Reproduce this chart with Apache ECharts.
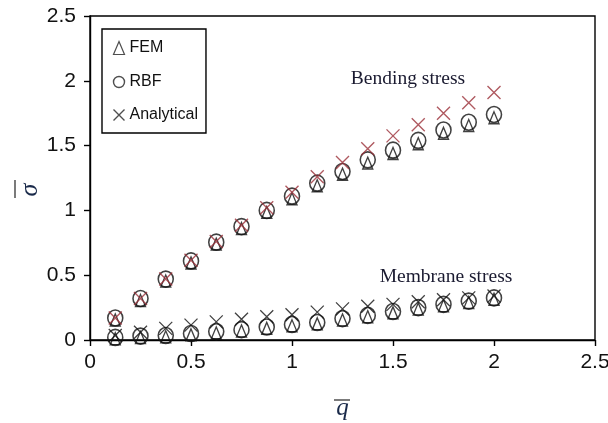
<!DOCTYPE html>
<html>
<head>
<meta charset="utf-8">
<script src="https://cdn.jsdelivr.net/npm/echarts@6/dist/echarts.min.js"></script>
<style>html,body{margin:0;padding:0;background:#fff;}#c{width:608px;height:423px;}</style>
</head>
<body>
<div id="c"></div>
<script>
// ---- data ----
var q = [0.125,0.25,0.375,0.5,0.625,0.75,0.875,1.0,1.125,1.25,1.375,1.5,1.625,1.75,1.875,2.0];
var rbfBending   = [0.17,0.32,0.47,0.61,0.755,0.875,1.0,1.11,1.21,1.30,1.39,1.465,1.54,1.62,1.68,1.74];
var femBending   = [0.155,0.305,0.455,0.595,0.74,0.86,0.985,1.09,1.19,1.28,1.365,1.44,1.515,1.595,1.655,1.715];
var anaBending   = [0.17,0.32,0.47,0.615,0.76,0.885,1.02,1.14,1.26,1.37,1.475,1.575,1.66,1.75,1.83,1.91];
var rbfMembrane  = [0.02,0.03,0.035,0.05,0.065,0.08,0.10,0.12,0.135,0.165,0.19,0.22,0.25,0.275,0.30,0.325];
var femMembrane  = [0.01,0.02,0.025,0.04,0.055,0.07,0.09,0.11,0.125,0.155,0.18,0.21,0.24,0.265,0.29,0.315];
var anaMembrane  = [0.035,0.06,0.09,0.115,0.14,0.16,0.18,0.195,0.215,0.24,0.26,0.275,0.295,0.31,0.325,0.34];
var legendNames = ['FEM','RBF','Analytical'];
var xTicks = [0,0.5,1,1.5,2,2.5];
var yTicks = [0,0.5,1,1.5,2,2.5];
var axisNames = ['q','σ'];
var annotations = ['Bending stress','Membrane stress'];

function pairs(xs, ys){ return xs.map(function(x,i){ return [x, ys[i]]; }); }

var crossPath = 'path://M0,0L10,10M10,0L0,10';
var red = '#9b3038';
var labelFont = '"Liberation Sans", Arial, sans-serif';
var nameColor = '#1a2a4a';

var chart = echarts.init(document.getElementById('c'), null, {renderer:'canvas'});
chart.setOption({
  animation:false,
  backgroundColor:'#fff',
  grid:{left:90,right:13,top:16,bottom:83,containLabel:false,outerBoundsMode:'none',
        show:true,borderColor:'#000',borderWidth:1.4,backgroundColor:'transparent'},
  xAxis:{
    type:'value',min:xTicks[0],max:xTicks[xTicks.length-1],interval:0.5,
    name:axisNames[0],nameLocation:'middle',nameGap:56,
    nameTextStyle:{fontFamily:'"Liberation Serif", serif',fontStyle:'italic',fontSize:25,color:nameColor},
    axisLine:{lineStyle:{color:'#000',width:1.4}},
    axisTick:{inside:false,length:6,lineStyle:{color:'#000',width:1.4}},
    axisLabel:{fontFamily:labelFont,fontSize:21,color:'#111',margin:12},
    splitLine:{show:false}
  },
  yAxis:{
    type:'value',min:yTicks[0],max:yTicks[yTicks.length-1],interval:0.5,
    axisLine:{lineStyle:{color:'#000',width:1.4}},
    axisTick:{inside:false,length:6,lineStyle:{color:'#000',width:1.4}},
    axisLabel:{fontFamily:labelFont,fontSize:21,color:'#111',margin:14},
    splitLine:{show:false}
  },
  legend:{
    orient:'vertical',left:102,top:29,
    backgroundColor:'#fff',borderColor:'#000',borderWidth:1.4,
    padding:[10,8,10,9],itemGap:17,itemWidth:11,itemHeight:13,
    textStyle:{fontFamily:labelFont,fontSize:16,color:'#111',padding:[0,0,0,0]},
    data:[
      {name:legendNames[0],icon:'triangle',itemStyle:{color:'none',borderColor:'#222',borderWidth:1.2}},
      {name:legendNames[1],icon:'circle',itemStyle:{color:'none',borderColor:'#222',borderWidth:1.4}},
      {name:legendNames[2],icon:crossPath,itemStyle:{color:'none',borderColor:'#222',borderWidth:1.4}}
    ]
  },
  graphic:[
    {type:'line',shape:{x1:334,y1:400,x2:350,y2:400},style:{stroke:'#333',lineWidth:1.3}},
    {type:'line',shape:{x1:15,y1:180,x2:15,y2:198},style:{stroke:'#333',lineWidth:1.3}},
    {type:'text',x:30,y:190,rotation:Math.PI/2,style:{text:axisNames[1],font:'italic 26px "Liberation Serif", serif',fill:nameColor,align:'center',verticalAlign:'middle'}},
    {type:'text',x:408,y:79,style:{text:annotations[0],font:'19.5px "Liberation Serif", serif',fill:'#1a1a30',align:'center',verticalAlign:'middle'}},
    {type:'text',x:446,y:277,style:{text:annotations[1],font:'19.5px "Liberation Serif", serif',fill:'#1a1a30',align:'center',verticalAlign:'middle'}}
  ],
  series:[
    {name:legendNames[0],type:'scatter',symbol:'triangle',symbolSize:[10,12],
     itemStyle:{color:'none',borderColor:'#111',borderWidth:1.4},
     data:pairs(q,femBending).concat(pairs(q,femMembrane)),z:2},
    {name:legendNames[1],type:'scatter',symbol:'circle',symbolSize:[15,16],
     itemStyle:{color:'none',borderColor:'#111',borderWidth:1.6},
     data:pairs(q,rbfBending).concat(pairs(q,rbfMembrane)),z:3},
    {name:legendNames[2],type:'scatter',symbol:crossPath,symbolSize:13,
     itemStyle:{color:'none',borderColor:'#111',borderWidth:1.3},
     data:pairs(q,anaMembrane),z:4},
    {name:legendNames[2],type:'scatter',symbol:crossPath,symbolSize:13,
     itemStyle:{color:'none',borderColor:red,borderWidth:1.4},
     data:pairs(q,anaBending),z:5}
  ]
});
</script>
</body>
</html>
